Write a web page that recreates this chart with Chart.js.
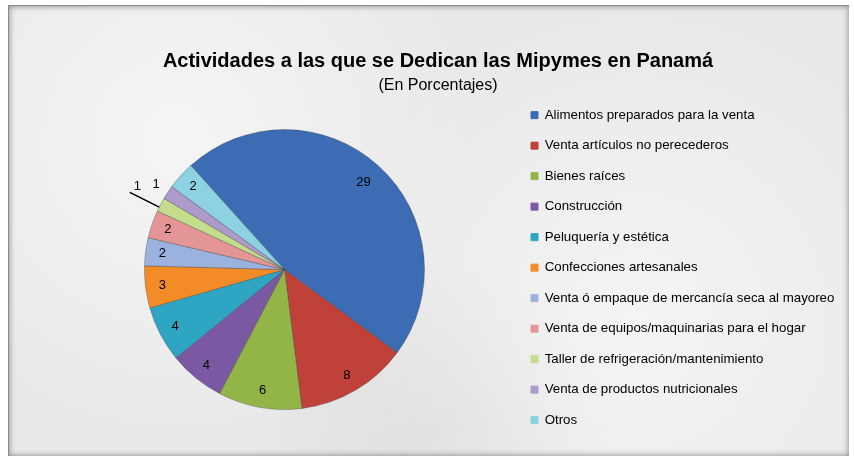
<!DOCTYPE html>
<html>
<head>
<meta charset="utf-8">
<script src="https://cdn.jsdelivr.net/npm/chart.js@4/dist/chart.umd.min.js"></script>
<style>
  html, body { margin: 0; padding: 0; background: #fff; }
  #frame {
    position: absolute; left: 8px; top: 5px; width: 840px; height: 450px;
    background-color: #e9e9e9;
    background-image:
      radial-gradient(circle at 20% 30%, rgba(255,255,255,0.55), rgba(255,255,255,0) 40%),
      radial-gradient(circle at 75% 70%, rgba(255,255,255,0.5), rgba(255,255,255,0) 45%),
      radial-gradient(circle at 50% 95%, rgba(200,200,200,0.35), rgba(200,200,200,0) 30%);
    border-top: 1px solid #8a8a8a;
    border-left: 1px solid #8a8a8a;
    box-shadow: inset 0 0 6px rgba(0,0,0,0.45);
  }
  #wrap { position: absolute; left: 0; top: 0; width: 854px; height: 460px; }
</style>
</head>
<body>
<div id="frame"></div>
<div id="wrap"><canvas id="pieChart"></canvas></div>
<script>
// Actividades de las Mipymes (porcentajes)
const categories = [
    'Alimentos preparados para la venta',
    'Venta artículos no perecederos',
    'Bienes raíces',
    'Construcción',
    'Peluquería y estética',
    'Confecciones artesanales',
    'Venta ó empaque de mercancía seca al mayoreo',
    'Venta de equipos/maquinarias para el hogar',
    'Taller de refrigeración/mantenimiento',
    'Venta de productos nutricionales',
    'Otros'
];
const values = [29, 8, 6, 4, 4, 3, 2, 2, 1, 1, 2];
const colors = ['#3B6CB4', '#C0403A', '#93B548', '#7A58A2', '#2EA5C3', '#F38B26',
                '#9BB1DE', '#E49697', '#C4DD8C', '#AD9BCB', '#8DD2E2'];

const FONT = '"Liberation Sans", Arial, sans-serif';

// numbers on the slices; the 1's go outside (first one with a leader line)
const sliceLabels = {
    id: 'sliceLabels',
    afterDatasetsDraw(chart) {
        const ctx = chart.ctx;
        const arcs = chart.getDatasetMeta(0).data;
        ctx.save();
        ctx.font = '13px ' + FONT;
        ctx.fillStyle = '#000';
        ctx.textAlign = 'center';
        ctx.textBaseline = 'middle';
        let outsideCount = 0;
        arcs.forEach((arc, i) => {
            const mid = (arc.startAngle + arc.endAngle) / 2;
            const r = arc.outerRadius;
            const at = (a, f) => [arc.x + Math.cos(a) * r * f, arc.y + Math.sin(a) * r * f];
            if (values[i] < 2) {
                if (outsideCount === 0) {
                    const p0 = at(mid - 0.02, 1.0);
                    const p1 = at(mid - 0.02, 1.235);
                    ctx.strokeStyle = '#000';
                    ctx.lineWidth = 1.5;
                    ctx.beginPath();
                    ctx.moveTo(p0[0], p0[1]);
                    ctx.lineTo(p1[0], p1[1]);
                    ctx.stroke();
                    const p = at(mid + 0.02, 1.2);
                    ctx.fillText(String(values[i]), p[0], p[1] - 2);
                } else {
                    const p = at(mid, 1.1);
                    ctx.fillText(String(values[i]), p[0], p[1]);
                }
                outsideCount++;
                return;
            }
            const p = at(mid, i === 0 ? 0.84 : 0.88);
            ctx.fillText(String(values[i]), p[0], p[1]);
        });
        ctx.restore();
    }
};

const pieCtx = document.getElementById('pieChart').getContext('2d');
const pieChart = new Chart(pieCtx, {
    type: 'pie',
    data: {
        labels: categories,
        datasets: [{
            data: values,
            backgroundColor: colors,
            borderColor: 'rgba(60, 60, 60, 0.35)',
            borderWidth: 1,
            radius: 140,
            rotation: -42
        }]
    },
    options: {
        responsive: true,
        maintainAspectRatio: false,
        animation: false,
        layout: {
            padding: { left: 39, right: 17, top: 39, bottom: 16 }
        },
        plugins: {
            title: {
                display: true,
                text: 'Actividades a las que se Dedican las Mipymes en Panamá',
                color: '#000',
                font: { family: FONT, size: 20, weight: 'bold' },
                padding: { top: 10, bottom: 0 }
            },
            subtitle: {
                display: true,
                text: '(En Porcentajes)',
                color: '#000',
                font: { family: FONT, size: 16, weight: 'normal' },
                padding: { top: 3, bottom: 0 }
            },
            legend: {
                position: 'right',
                align: 'end',
                maxWidth: 307,
                labels: {
                    boxWidth: 7,
                    boxHeight: 7,
                    padding: 1,
                    color: '#000',
                    // tall line height gives the wide row spacing of the original
                    font: { family: FONT, size: 13.3, lineHeight: 29.5 / 13.3 },
                    generateLabels: () => categories.map((c, i) => ({
                        text: [c],
                        fillStyle: colors[i],
                        strokeStyle: colors[i],
                        lineWidth: 1,
                        fontColor: '#000',
                        hidden: false,
                        index: i
                    }))
                }
            },
            tooltip: { enabled: false }
        }
    },
    plugins: [sliceLabels]
});
</script>
</body>
</html>
